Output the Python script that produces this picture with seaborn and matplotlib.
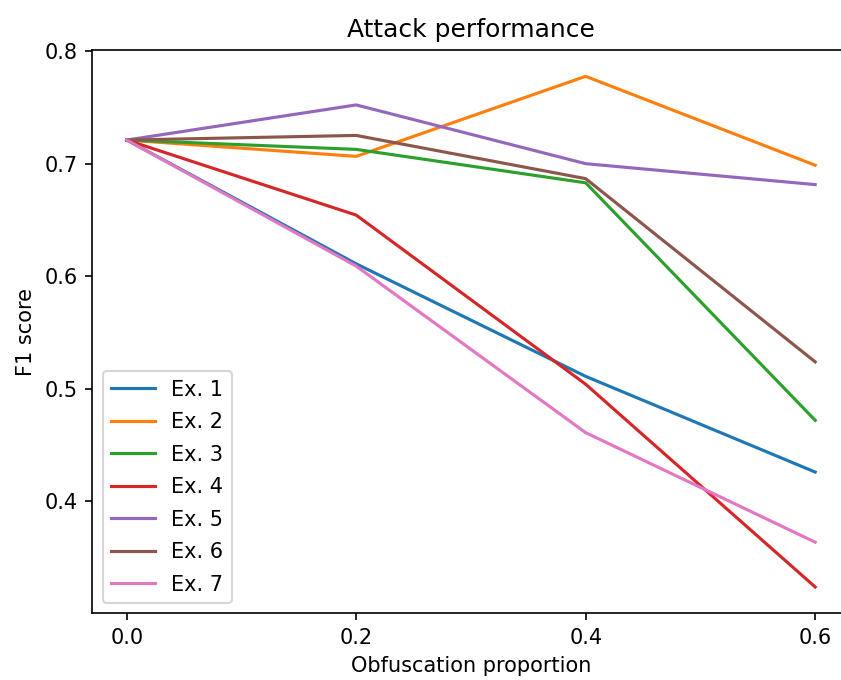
import matplotlib
matplotlib.use("Agg")
import matplotlib.pyplot as plt
import seaborn as sns
import pandas as pd

x_vals = [0.0, 0.2, 0.4, 0.6]
series_names = ["Ex. 1", "Ex. 2", "Ex. 3", "Ex. 4", "Ex. 5", "Ex. 6", "Ex. 7"]
ex1 = [0.721, 0.611, 0.511, 0.426]
ex2 = [0.721, 0.7065, 0.7776, 0.6986]
ex3 = [0.721, 0.7127, 0.683, 0.472]
ex4 = [0.721, 0.6543, 0.504, 0.3239]
ex5 = [0.721, 0.7522, 0.700, 0.6814]
ex6 = [0.721, 0.7251, 0.6867, 0.5239]
ex7 = [0.721, 0.609, 0.461, 0.3637]
all_series = [ex1, ex2, ex3, ex4, ex5, ex6, ex7]

rows = []
for name, vals in zip(series_names, all_series):
    for xv, yv in zip(x_vals, vals):
        rows.append({"x": xv, "y": yv, "series": name})
df = pd.DataFrame(rows)

dpi = 150
fig = plt.figure(figsize=(841 / dpi, 680 / dpi), dpi=dpi)
ax = fig.add_axes([92.3 / 841, (680 - 613.3) / 680, (849.6 - 92.3) / 841, (613.3 - 50) / 680])

sns.lineplot(data=df, x="x", y="y", hue="series", palette="tab10", ax=ax,
             linewidth=1.5, estimator=None)

ax.set_xticks([0.0, 0.2, 0.4, 0.6])
ax.set_yticks([0.4, 0.5, 0.6, 0.7, 0.8])
ax.set_xlim(-0.03, 0.63)
ax.set_ylim(0.3005, 0.801)
ax.set_title("Attack performance")
ax.set_xlabel("Obfuscation proportion")
ax.set_ylabel("F1 score")
handles, labels = ax.get_legend_handles_labels()
ax.legend(handles, labels, loc="lower left", labelspacing=0.6, handlelength=2.1)

fig.savefig("out.png", dpi=dpi)
